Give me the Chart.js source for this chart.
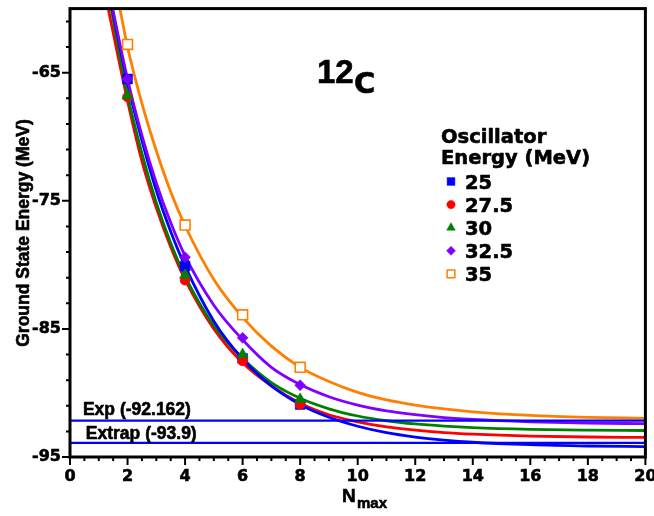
<!DOCTYPE html>
<html>
<head>
<meta charset="utf-8">
<script src="https://cdn.jsdelivr.net/npm/chart.js@4.4.1/dist/chart.umd.min.js"></script>
<style>
  html, body { margin: 0; padding: 0; background: #fff; }
  #wrap { width: 654px; height: 516px; }
</style>
</head>
<body>
<div id="wrap"><canvas id="chart" width="654" height="516"></canvas></div>
<script>
// oscillator energies (MeV), one series each
const energies = ['25', '27.5', '30', '32.5', '35']
const colors = ['#0000ff', '#ff0000', '#008000', '#8000ff', '#ff8000']

// calculated ground state energies (MeV) at each Nmax
const nmax = [2, 4, 6, 8]
const calc25 = [-65.5, -80.1, -87.3, -90.9]
const calc275 = [-66.9, -81.2, -87.5, -90.9]
const calc30 = [-66.8, -80.8, -87.0, -90.5]
const calc325 = [-65.5, -79.4, -85.7, -89.4]
const calc35 = [-62.8, -76.9, -83.9, -88.0]

// exponential fit curves, sampled along Nmax
const fitN = [2, 2.5, 3, 3.5, 4, 5, 6, 7, 8, 9, 10, 11, 12, 13, 14, 16, 18, 20]
const fit25 = [-65.8, -70.3, -74.2, -77.4, -80.1, -84.4, -87.35, -89.45, -90.9, -91.9, -92.6, -93.1, -93.44, -93.68, -93.85, -94.04, -94.14, -94.19]
const fit275 = [-67.2, -71.9, -75.55, -78.6, -81.15, -85.0, -87.65, -89.45, -90.8, -91.7, -92.25, -92.65, -92.9, -93.1, -93.22, -93.37, -93.44, -93.47]
const fit30 = [-66.7, -71.3, -75.15, -78.3, -80.9, -84.75, -87.3, -89.2, -90.42, -91.24, -91.8, -92.17, -92.42, -92.59, -92.71, -92.84, -92.9, -92.93]
const fit325 = [-65.5, -69.9, -73.6, -76.7, -79.3, -83.15, -85.85, -88.0, -89.35, -90.3, -90.95, -91.4, -91.7, -91.92, -92.07, -92.25, -92.35, -92.4]
const fit35 = [-63.0, -67.4, -71.1, -74.3, -76.95, -81.15, -84.1, -86.35, -88.0, -89.1, -89.95, -90.55, -90.95, -91.25, -91.47, -91.75, -91.9, -91.98]
// where each fit leaves the top of the frame
const fitTopN = [1.4, 1.3, 1.35, 1.4, 1.7]
const fitTopE = [-59.3, -59.7, -59.05, -59.1, -59.6]

// reference energies (MeV)
const expEnergy = -92.162
const extrapEnergy = -93.9

// axis ticks
const xTicks = [0, 2, 4, 6, 8, 10, 12, 14, 16, 18, 20]
const yTicks = [-95, -85, -75, -65]

const calc = [calc25, calc275, calc30, calc325, calc35]
const fits = [fit25, fit275, fit30, fit325, fit35]
const SANS = '"Liberation Sans", Arial, sans-serif'
const WIDE = '"DejaVu Sans", sans-serif'

const markerStyle = [
  { pointStyle: 'rect', radius: 7, fill: colors[0] },
  { pointStyle: 'circle', radius: 5, fill: colors[1] },
  { pointStyle: 'triangle', radius: 6.5, fill: colors[2] },
  { pointStyle: 'rectRot', radius: 5.5, fill: colors[3] },
  { pointStyle: 'rect', radius: 7, fill: '#ffffff' }
]

const pts = (xs, ys) => xs.map((v, i) => ({ x: v, y: ys[i] }))

function fitDataset(i) {
  return {
    label: energies[i] + ' fit',
    data: [{ x: fitTopN[i], y: fitTopE[i] }].concat(pts(fitN, fits[i])),
    showLine: true,
    borderColor: colors[i],
    borderWidth: 2.8,
    pointRadius: 0,
    cubicInterpolationMode: 'monotone'
  }
}

function markerDataset(i) {
  const m = markerStyle[i]
  return {
    label: energies[i],
    data: pts(nmax, calc[i]),
    showLine: false,
    pointStyle: m.pointStyle,
    pointRadius: m.radius,
    backgroundColor: m.fill,
    borderColor: colors[i],
    borderWidth: i === 4 ? 1.6 : 0.5
  }
}

function refLine(value) {
  return {
    label: 'ref',
    data: [{ x: 0, y: value }, { x: 20, y: value }],
    showLine: true,
    borderColor: '#0000ff',
    borderWidth: 2.4,
    pointRadius: 0
  }
}

// first in the list is drawn on top
const datasets = [
  markerDataset(3), markerDataset(4), markerDataset(2), markerDataset(1), markerDataset(0),
  refLine(expEnergy), refLine(extrapEnergy),
  fitDataset(3), fitDataset(4), fitDataset(0), fitDataset(2), fitDataset(1)
]

// heavy text: fill plus a thin outline
function heavyText(ctx, text, x, y) {
  ctx.strokeText(text, x, y)
  ctx.fillText(text, x, y)
}

// frame, tick marks and text annotations
const decorations = {
  id: 'decorations',
  afterDraw(chart) {
    const { ctx, chartArea: a, scales: { x, y } } = chart
    ctx.save()
    ctx.strokeStyle = '#000'
    ctx.lineWidth = 3
    ctx.strokeRect(a.left, a.top, a.right - a.left, a.bottom - a.top)

    ctx.lineWidth = 2
    ctx.beginPath()
    for (let v = 0; v <= 20; v += 0.5) {
      const px = x.getPixelForValue(v)
      const len = v % 2 === 0 ? 8 : 4
      ctx.moveTo(px, a.bottom)
      ctx.lineTo(px, a.bottom + len)
    }
    for (let v = -95; v <= -61; v += 2) {
      const py = y.getPixelForValue(v)
      const len = (v + 95) % 10 === 0 ? 8 : 4
      ctx.moveTo(a.left, py)
      ctx.lineTo(a.left - len, py)
    }
    ctx.stroke()

    ctx.fillStyle = '#000'
    ctx.strokeStyle = '#000'
    ctx.lineWidth = 0.6
    ctx.lineJoin = 'round'
    ctx.textBaseline = 'alphabetic'
    ctx.textAlign = 'left'

    // reference line labels
    ctx.font = 'bold 17.5px ' + SANS
    heavyText(ctx, 'Exp (' + expEnergy + ')', x.getPixelForValue(0.45), y.getPixelForValue(expEnergy) - 6)
    heavyText(ctx, 'Extrap (' + extrapEnergy + ')', x.getPixelForValue(0.55), y.getPixelForValue(extrapEnergy) - 4)

    // nucleus label
    ctx.font = 'bold 33px ' + SANS
    heavyText(ctx, '12', 317, 83)
    ctx.font = 'bold 29px ' + WIDE
    heavyText(ctx, 'C', 354, 93)

    // axis titles
    ctx.font = 'bold 19px ' + SANS
    heavyText(ctx, 'N', 342, 502)
    ctx.font = 'bold 15px ' + SANS
    heavyText(ctx, 'max', 357, 508)

    ctx.save()
    ctx.translate(29, 233)
    ctx.rotate(-Math.PI / 2)
    ctx.textAlign = 'center'
    ctx.font = 'bold 17.5px ' + SANS
    heavyText(ctx, 'Ground State Energy (MeV)', 0, 0)
    ctx.restore()

    // legend
    ctx.font = 'bold 19.5px ' + WIDE
    heavyText(ctx, 'Oscillator', 441, 143)
    heavyText(ctx, 'Energy (MeV)', 441, 164)
    const legendSize = [
      { pointStyle: 'rect', radius: 5.5 },
      { pointStyle: 'circle', radius: 4.2 },
      { pointStyle: 'triangle', radius: 5 },
      { pointStyle: 'rectRot', radius: 4.5 },
      { pointStyle: 'rect', radius: 5.5 }
    ]
    energies.forEach((e, i) => {
      const base = 189 + i * 23.1
      ctx.save()
      ctx.fillStyle = markerStyle[i].fill
      ctx.strokeStyle = colors[i]
      ctx.lineWidth = i === 4 ? 1.5 : 0.5
      Chart.helpers.drawPoint(ctx, { pointStyle: legendSize[i].pointStyle, radius: legendSize[i].radius, rotation: 0, borderWidth: ctx.lineWidth }, 451, base - 7.5)
      ctx.restore()
      ctx.font = 'bold 19.5px ' + WIDE
      heavyText(ctx, e, 465, base)
    })
    ctx.restore()
  }
}

const tickFont = { family: WIDE, size: 16, weight: 'bold' }

new Chart(document.getElementById('chart'), {
  type: 'scatter',
  data: { datasets },
  options: {
    responsive: false,
    devicePixelRatio: 1,
    animation: false,
    layout: { padding: { top: 3, right: 8, left: 0, bottom: 0 } },
    plugins: { legend: { display: false }, tooltip: { enabled: false } },
    scales: {
      x: {
        type: 'linear',
        min: 0,
        max: 20,
        grid: { display: false, drawTicks: false },
        border: { display: false },
        afterBuildTicks: s => { s.ticks = xTicks.map(v => ({ value: v })) },
        afterFit: s => { s.height = 59; s.paddingLeft = 0; s.paddingRight = 0 },
        ticks: { color: '#000', padding: 10, maxRotation: 0, textStrokeColor: '#000', textStrokeWidth: 0.6, font: tickFont }
      },
      y: {
        type: 'linear',
        min: -95,
        max: -60,
        grid: { display: false, drawTicks: false },
        border: { display: false },
        afterBuildTicks: s => { s.ticks = yTicks.map(v => ({ value: v })) },
        afterFit: s => { s.width = 70; s.paddingTop = 0; s.paddingBottom = 0 },
        ticks: { color: '#000', padding: 9, textStrokeColor: '#000', textStrokeWidth: 0.6, font: tickFont }
      }
    }
  },
  plugins: [decorations]
})
</script>
</body>
</html>
